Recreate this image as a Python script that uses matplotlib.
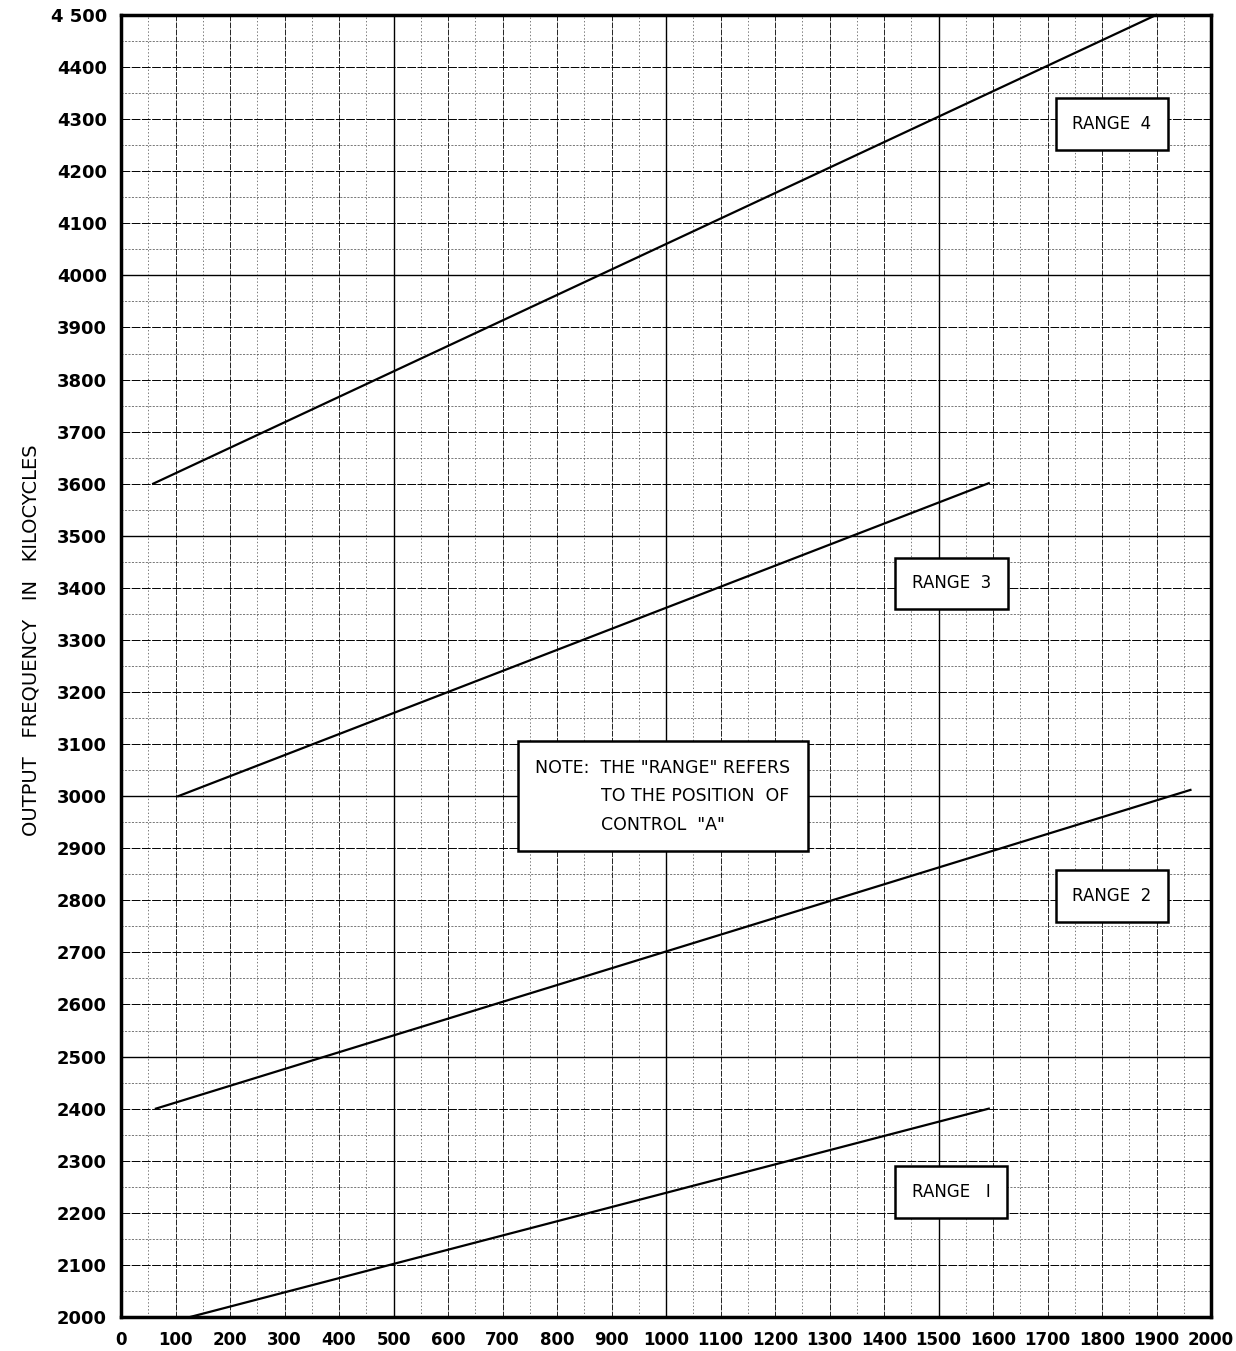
import numpy as np
import matplotlib.pyplot as plt

# calibration lines: (dial start, dial end), (freq start, freq end)
range_names = ["RANGE   I", "RANGE  2", "RANGE  3", "RANGE  4"]
range_x = [[127, 1592], [64, 1962], [105, 1592], [59, 1899]]
range_y = [[2000, 2400], [2400, 3012], [3000, 3601], [3600, 4500]]
label_x = [1523, 1818, 1524, 1818]
label_y = [2240, 2808, 3409, 4291]

x_ticks = list(range(0, 2001, 100))
x_ticklabels = [str(v) for v in x_ticks]
y_ticks = list(range(2000, 4501, 100))
y_ticklabels = [str(v) for v in y_ticks[:-1]] + ["4 500"]

note_text = 'NOTE:  THE "RANGE" REFERS\n            TO THE POSITION  OF\n            CONTROL  "A"'
note_x, note_y = 994, 3000


def main():
    plt.rcParams['font.family'] = ['DejaVu Sans']
    fig = plt.figure(figsize=(12.36, 13.51), dpi=100)
    ax = fig.add_axes([0.0979, 0.0252, 0.8820, 0.9637])

    ax.set_xlim(0, 2000)
    ax.set_ylim(2000, 4500)

    # graph paper grid
    for v in range(50, 2000, 50):
        if v % 500 == 0:
            ax.axvline(v, color='black', lw=1.0, zorder=1)
        elif v % 100 == 0:
            ax.axvline(v, color='black', lw=0.6, ls=(0, (7, 1.5)), zorder=1)
        else:
            ax.axvline(v, color='#444444', lw=0.5, ls=(0, (2, 3)), zorder=1)
    for v in range(2050, 4500, 50):
        if v % 500 == 0:
            ax.axhline(v, color='black', lw=1.0, zorder=1)
        elif v % 100 == 0:
            ax.axhline(v, color='black', lw=0.7, ls=(0, (9, 1.5)), zorder=1)
        else:
            ax.axhline(v, color='#444444', lw=0.5, ls=(0, (3, 2)), zorder=1)

    for xs, ys in zip(range_x, range_y):
        ax.plot(xs, ys, color='black', lw=1.6, zorder=3, clip_on=False)

    box = dict(boxstyle='square,pad=1.0', facecolor='white', edgecolor='black', lw=1.8)
    for name, lx, ly in zip(range_names, label_x, label_y):
        ax.text(lx, ly, name, ha='center', va='center', fontsize=12,
                bbox=box, zorder=4)

    ax.text(note_x, note_y, note_text, ha='center', va='center', fontsize=12.5,
            multialignment='left', linespacing=1.75,
            bbox=dict(boxstyle='square,pad=1.0', facecolor='white',
                      edgecolor='black', lw=1.8), zorder=4)

    ax.set_xticks(x_ticks)
    ax.set_xticklabels(x_ticklabels, fontsize=12, fontweight='bold')
    ax.set_yticks(y_ticks)
    ax.set_yticklabels(y_ticklabels, fontsize=13, fontweight='bold')
    ax.tick_params(length=0, pad=10)

    ax.set_ylabel("OUTPUT   FREQUENCY   IN   KILOCYCLES", fontsize=14)
    ax.yaxis.set_label_coords(-0.074, 0.52)

    for s in ax.spines.values():
        s.set_linewidth(2.5)
        s.set_zorder(5)

    fig.savefig("out.png", dpi=100)


if __name__ == '__main__':
    main()
